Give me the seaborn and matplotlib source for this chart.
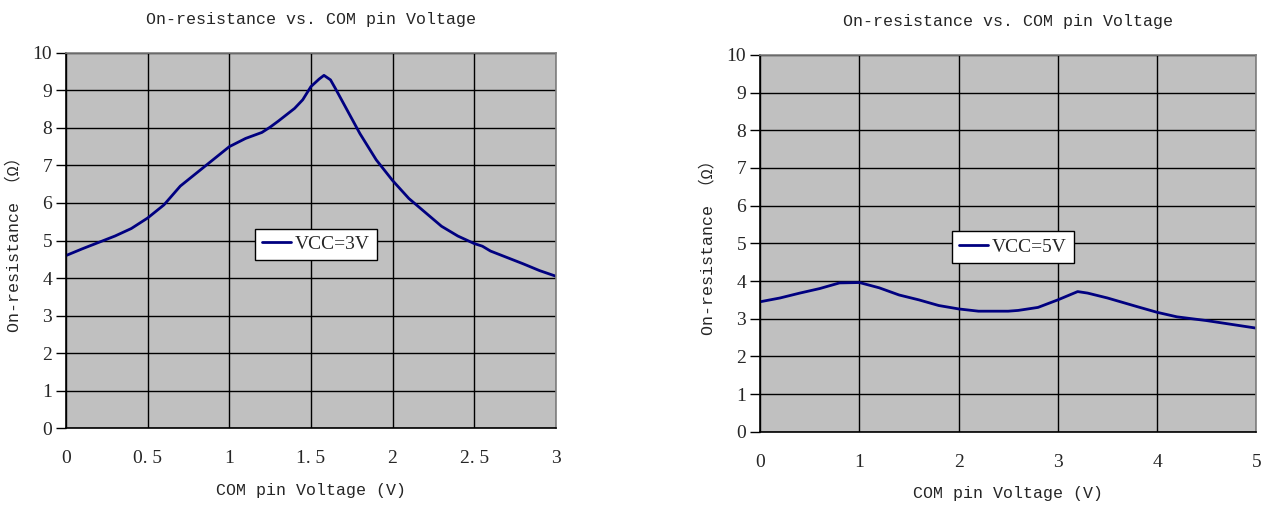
import seaborn as sns
import matplotlib.pyplot as plt
import pandas as pd

# VCC = 3V curve
v3_x = [0.0, 0.1, 0.2, 0.3, 0.4, 0.5, 0.6, 0.65, 0.7, 0.8, 0.9, 1.0, 1.1, 1.2, 1.25,
        1.3, 1.4, 1.45, 1.5, 1.55, 1.58, 1.62, 1.65, 1.7, 1.8, 1.9, 2.0, 2.1, 2.2,
        2.3, 2.4, 2.5, 2.55, 2.6, 2.7, 2.8, 2.9, 3.0]
v3_r = [4.6, 4.78, 4.95, 5.12, 5.32, 5.6, 5.95, 6.2, 6.45, 6.8, 7.15, 7.5, 7.72, 7.88, 8.02,
        8.18, 8.52, 8.75, 9.1, 9.3, 9.4, 9.28, 9.05, 8.65, 7.85, 7.15, 6.6, 6.12, 5.75,
        5.38, 5.12, 4.92, 4.85, 4.72, 4.55, 4.38, 4.2, 4.05]

# VCC = 5V curve
v5_x = [0.0, 0.2, 0.4, 0.6, 0.8, 1.0, 1.2, 1.4, 1.6, 1.8, 2.0, 2.2, 2.5, 2.6, 2.8,
        3.0, 3.2, 3.3, 3.5, 3.8, 4.0, 4.2, 4.5, 5.0]
v5_r = [3.45, 3.55, 3.68, 3.8, 3.95, 3.96, 3.82, 3.63, 3.5, 3.35, 3.26, 3.2, 3.2, 3.22, 3.3,
        3.5, 3.72, 3.68, 3.55, 3.32, 3.17, 3.05, 2.95, 2.75]

df3 = pd.DataFrame({'V': v3_x, 'R': v3_r})
df5 = pd.DataFrame({'V': v5_x, 'R': v5_r})

sns.set_style("white")
mono = ['Liberation Mono', 'Noto Sans CJK SC', 'DejaVu Sans']
serif = ['Liberation Serif', 'DejaVu Serif']

fig = plt.figure(figsize=(12.69, 5.08), dpi=100)
ax1 = fig.add_axes([0.052, 0.157, 0.386, 0.739])
ax2 = fig.add_axes([0.599, 0.150, 0.391, 0.742])

panels = [(ax1, df3, 'VCC=3V', 3, [0, 0.5, 1, 1.5, 2, 2.5, 3], ['0', '0. 5', '1', '1. 5', '2', '2. 5', '3']),
          (ax2, df5, 'VCC=5V', 5, [0, 1, 2, 3, 4, 5], ['0', '1', '2', '3', '4', '5'])]

for ax, df, lab, xmax, xt, xtl in panels:
    ax.set_facecolor('#C0C0C0')
    sns.lineplot(data=df, x='V', y='R', ax=ax, color='#000080', linewidth=2, label=lab)
    ax.set_xlim(0, xmax)
    ax.set_ylim(0, 10)
    ax.set_xticks(xt)
    ax.set_xticklabels(xtl, fontfamily=serif, fontsize=14)
    ax.set_yticks(range(0, 11))
    ax.set_yticklabels([str(i) for i in range(11)], fontfamily=serif, fontsize=14)
    ax.grid(True, color='black', linewidth=1)
    ax.tick_params(axis='x', length=0, pad=16)
    ax.tick_params(axis='y', length=7, width=1, color='black', direction='out', pad=3, left=True)
    for s in ['left', 'bottom']:
        ax.spines[s].set_color('black')
        ax.spines[s].set_linewidth(1.2)
    for s in ['top', 'right']:
        ax.spines[s].set_color('#808080')
        ax.spines[s].set_linewidth(1.2)
    ax.set_title('On-resistance vs. COM pin Voltage', fontfamily=mono, fontsize=12, pad=21)
    ax.set_xlabel('COM pin Voltage (V)', fontfamily=mono, fontsize=12, labelpad=11)
    ax.set_ylabel('On-resistance （Ω）', fontfamily=mono, fontsize=12, labelpad=8)
    leg = ax.legend(loc='center', bbox_to_anchor=(0.51, 0.49), frameon=True, fancybox=False,
                    edgecolor='black', framealpha=1, prop={'family': serif, 'size': 14},
                    handlelength=1.5, borderpad=0.35, handletextpad=0.2, borderaxespad=0)
    leg.get_frame().set_linewidth(1)

fig.savefig('out.png', dpi=100)
